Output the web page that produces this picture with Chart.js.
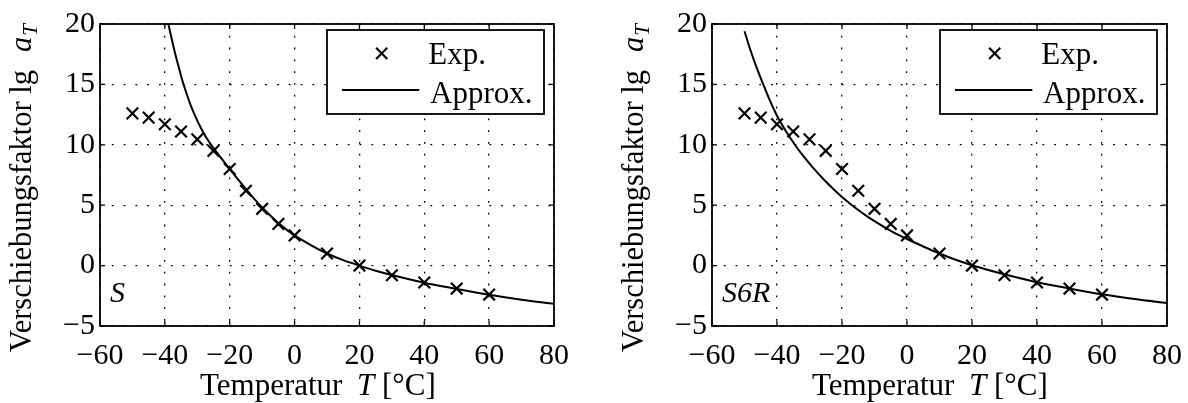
<!DOCTYPE html>
<html><head><meta charset="utf-8">
<script src="https://cdn.jsdelivr.net/npm/chart.js@4.4.1/dist/chart.umd.min.js"></script>
<style>
html,body{margin:0;padding:0;background:#fff;overflow:hidden;width:1188px;height:403px;}
#wrap{position:absolute;left:0;top:0;width:1188px;height:403px;overflow:hidden;}
.box{position:absolute;top:0;height:403px;}
</style></head><body>
<div id="wrap">
<div class="box" style="left:0;width:594px"><canvas id="c1"></canvas></div>
<div class="box" style="left:612px;width:595px"><canvas id="c2"></canvas></div>
</div>
<script>
// ---- data ----
const expTemps = [-50,-45,-40,-35,-30,-25,-20,-15,-10,-5,0,10,20,30,40,50,60];
const expShift = [12.6,12.25,11.7,11.1,10.45,9.5,8.0,6.2,4.7,3.45,2.5,1.0,0.0,-0.8,-1.4,-1.9,-2.4];

const approxTempsS = [-40,-39,-38,-37,-36,-35,-34,-33,-32,-31,-30,-29,-28,-27,-26,-25,-22.5,-20,-17.5,-15,-12.5,-10,-7.5,-5,-2.5,0,5,10,15,20,25,30,40,50,60,70,80];
const approxShiftS = [21.4,20.1,18.9,17.75,16.7,15.7,14.8,14.0,13.25,12.6,12.0,11.45,10.95,10.5,10.1,9.72,8.85,8.0,7.15,6.33,5.55,4.82,4.15,3.52,2.98,2.5,1.7,1.0,0.45,0.0,-0.42,-0.78,-1.42,-1.93,-2.42,-2.83,-3.17];

const approxTempsS6R = [-50,-48,-46,-44,-42,-40,-38,-36,-34,-32,-30,-27.5,-25,-22.5,-20,-17.5,-15,-12.5,-10,-7.5,-5,-2.5,0,5,10,15,20,25,30,40,50,60,70,80];
const approxShiftS6R = [19.4,17.7,16.2,14.85,13.55,12.4,11.45,10.6,9.82,9.1,8.45,7.68,6.96,6.3,5.68,5.12,4.6,4.12,3.68,3.27,2.88,2.52,2.2,1.58,1.0,0.48,0.03,-0.36,-0.72,-1.38,-1.9,-2.38,-2.77,-3.1];

const xTicks = [-60,-40,-20,0,20,40,60,80];
const yTicks = [-5,0,5,10,15,20];

const FONT = '"Liberation Serif", "Times New Roman", Times, serif';
const FS = 30;
const fmt = v => String(v).replace('-', '\u2212');

const deco = {
  id: 'deco',
  afterDraw(chart, args, opts) {
    const ctx = chart.ctx, a = chart.chartArea;
    const xs = chart.scales.x, ys = chart.scales.y;
    ctx.save();
    ctx.strokeStyle = '#000';
    ctx.fillStyle = '#000';
    // frame
    ctx.lineWidth = 1.8;
    ctx.strokeRect(a.left, a.top, a.right - a.left, a.bottom - a.top);
    // inward ticks
    ctx.lineWidth = 1.3;
    ctx.beginPath();
    xTicks.forEach(v => {
      const px = xs.getPixelForValue(v);
      ctx.moveTo(px, a.bottom); ctx.lineTo(px, a.bottom - 5);
      ctx.moveTo(px, a.top); ctx.lineTo(px, a.top + 5);
    });
    yTicks.forEach(v => {
      const py = ys.getPixelForValue(v);
      ctx.moveTo(a.left, py); ctx.lineTo(a.left + 5, py);
      ctx.moveTo(a.right, py); ctx.lineTo(a.right - 5, py);
    });
    ctx.stroke();
    // legend
    const bl = a.right - 227, bt = a.top + 6, bw = 217, bh = 84;
    ctx.fillStyle = '#fff';
    ctx.fillRect(bl, bt, bw, bh);
    ctx.lineWidth = 1.8;
    ctx.strokeRect(bl, bt, bw, bh);
    ctx.fillStyle = '#000';
    const mx = a.right - 172.3, my = 53.3, r = 5.6;
    ctx.lineWidth = 2.1;
    ctx.beginPath();
    ctx.moveTo(mx - r, my - r); ctx.lineTo(mx + r, my + r);
    ctx.moveTo(mx + r, my - r); ctx.lineTo(mx - r, my + r);
    ctx.stroke();
    ctx.lineWidth = 2;
    ctx.beginPath();
    ctx.moveTo(a.right - 212, 90); ctx.lineTo(a.right - 134.7, 90);
    ctx.stroke();
    ctx.textAlign = 'left';
    ctx.textBaseline = 'alphabetic';
    ctx.font = '31px ' + FONT;
    ctx.fillText('Exp.', a.right - 125.7, 64);
    ctx.fillText('Approx.', a.right - 124, 103);
    // corner label
    ctx.font = 'italic ' + FS + 'px ' + FONT;
    ctx.fillText(opts.label, a.left + 10, a.bottom - 24);
    // x title
    const yb = 395;
    ctx.font = '31px ' + FONT;
    ctx.fillText('Temperatur', a.left + 100, yb);
    ctx.font = 'italic 31px ' + FONT;
    ctx.fillText('T', a.left + 257, yb);
    ctx.font = '31px ' + FONT;
    ctx.fillText('[\u00B0C]', a.left + 282, yb);
    // y title (rotated)
    ctx.save();
    ctx.translate(a.left - 69, 352);
    ctx.rotate(-Math.PI / 2);
    const q1 = 'Verschiebungsfaktor lg';
    ctx.font = '30.5px ' + FONT;
    const qw1 = ctx.measureText(q1).width;
    ctx.fillText(q1, 0, 0);
    ctx.font = 'italic 30.5px ' + FONT;
    const qw2 = ctx.measureText('a').width;
    const ax = qw1 + 18;
    ctx.fillText('a', ax, 0);
    ctx.font = 'italic 21px ' + FONT;
    ctx.fillText('T', ax + qw2 + 1, 6);
    ctx.restore();
    ctx.restore();
  }
};

function axisCommon(ticksArr, pad) {
  return {
    type: 'linear',
    afterBuildTicks: s => { s.ticks = ticksArr.map(v => ({ value: v })); },
    grid: { color: '#000', lineWidth: 1.3, drawTicks: false },
    border: { display: false, dash: [1.8, 10] },
    ticks: { color: '#000', font: { family: FONT, size: FS }, padding: pad, callback: v => fmt(v), maxRotation: 0, autoSkip: false }
  };
}

function makeChart(id, tArr, vArr, label) {
  const xAxis = Object.assign(axisCommon(xTicks, 12), { min: -60, max: 80, afterFit: s => { s.height = 77; } });
  const yAxis = Object.assign(axisCommon(yTicks, 5), { min: -5, max: 20, afterFit: s => { s.width = 100; } });
  return new Chart(document.getElementById(id), {
    type: 'scatter',
    data: {
      datasets: [
        { label: 'Approx.', data: tArr.map((t, i) => ({ x: t, y: vArr[i] })), showLine: true,
          borderColor: '#000', backgroundColor: '#000', borderWidth: 2, pointRadius: 0, pointHoverRadius: 0,
          cubicInterpolationMode: 'monotone', clip: 0 },
        { label: 'Exp.', data: expTemps.map((t, i) => ({ x: t, y: expShift[i] })), showLine: false,
          pointStyle: 'crossRot', pointRadius: 8.2, pointHoverRadius: 8.2, borderColor: '#000', backgroundColor: '#000',
          pointBorderWidth: 2.2, borderWidth: 2.2 }
      ]
    },
    options: {
      responsive: true, maintainAspectRatio: false, animation: false, events: [],
      layout: { padding: { top: 24, right: 40, left: 0, bottom: 0 } },
      plugins: { legend: { display: false }, tooltip: { enabled: false }, deco: { label: label } },
      scales: { x: xAxis, y: yAxis }
    },
    plugins: [deco]
  });
}

makeChart('c1', approxTempsS, approxShiftS, 'S');
makeChart('c2', approxTempsS6R, approxShiftS6R, 'S6R');
</script>
</body></html>
